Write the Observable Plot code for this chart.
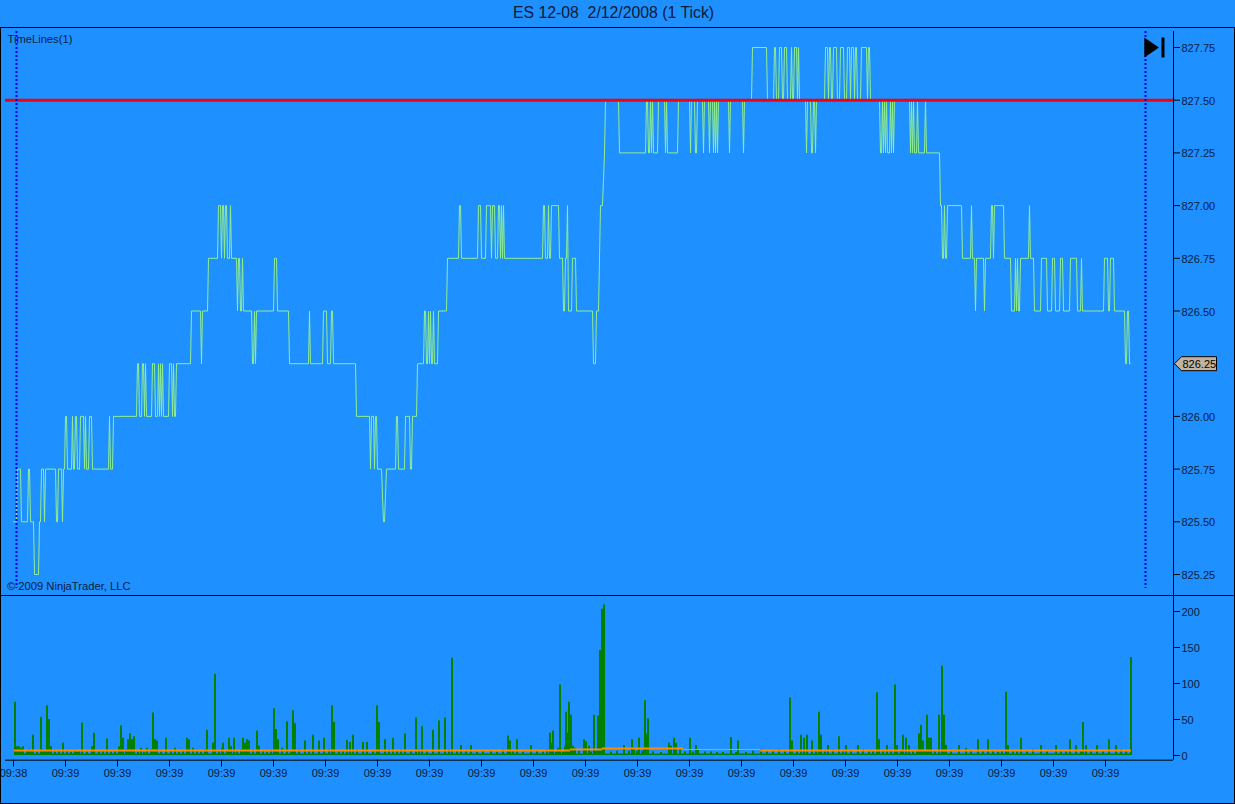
<!DOCTYPE html>
<html>
<head>
<meta charset="utf-8">
<script src="https://cdn.jsdelivr.net/npm/d3@7"></script>
<script src="https://cdn.jsdelivr.net/npm/@observablehq/plot@0.6"></script>
<style>
html,body{margin:0;padding:0;background:#1E90FF;overflow:hidden}
#page{position:relative;width:1235px;height:804px;background:#1E90FF;font-family:"Liberation Sans",Arial,sans-serif}
#title{position:absolute;left:0;top:4px;width:1227px;text-align:center;font-size:15.8px;line-height:18px;color:#0a1a36;white-space:pre}
#frame{position:absolute;left:0;top:27px;width:1233px;height:775px;border:1px solid #000;box-sizing:content-box;pointer-events:none}
#sep{position:absolute;left:0;top:595px;width:1235px;height:1px;background:#000}
#top,#bottom{position:absolute;left:0}
#top{top:27px}#bottom{top:595px}
svg{display:block;background:transparent!important}
</style>
</head>
<body>
<div id="page">
<div id="title">ES 12-08  2/12/2008 (1 Tick)</div>
<div id="top"></div>
<div id="bottom"></div>
<div id="frame"></div>
<div id="sep"></div>
</div>
<script>
// price runs: [first tick, last tick, price]
const priceRuns = [
[13,16,825.5],[17,20,825.75],[21,27,825.5],[28,29,825.75],[30,33,825.5],[34,38,825.25],[39,40,825.5],[41,43,825.75],[44,44,825.5],[45,55,825.75],[56,57,825.5],[58,61,825.75],[62,62,825.5],[63,64,825.75],[65,66,826],[67,71,825.75],[72,72,826],[73,74,825.75],[75,76,826],[77,79,825.75],[80,83,826],[84,84,825.75],[85,85,826],[86,88,825.75],[89,91,826],[92,108,825.75],[109,109,826],[110,112,825.75],[113,136,826],[137,138,826.25],[139,141,826],[142,143,826.25],[144,144,826],[145,145,826.25],[146,151,826],[152,154,826.25],[155,157,826],[158,158,826.25],[159,159,826],[160,160,826.25],[161,161,826],[162,162,826.25],[163,168,826],[169,171,826.25],[172,172,826],[173,173,826.25],[174,175,826],[176,190,826.25],
[191,200,826.5],[201,201,826.25],[202,207,826.5],[208,217,826.75],[218,220,827],[221,221,826.75],[222,223,827],[224,224,826.75],[225,226,827],[227,229,826.75],[230,230,827],[231,236,826.75],[237,237,826.5],[238,239,826.75],[240,241,826.5],[242,242,826.75],[243,251,826.5],[252,253,826.25],[254,254,826.5],[255,255,826.25],[256,273,826.5],[274,276,826.75],[277,288,826.5],[289,308,826.25],[309,309,826.5],[310,322,826.25],[323,326,826.5],[327,330,826.25],[331,332,826.5],[333,355,826.25],[356,369,826],[370,370,825.75],[371,373,826],[374,374,825.75],[375,376,826],[377,381,825.75],[383,384,825.5],[386,395,825.75],[396,397,826],[398,404,825.75],[405,409,826],[410,411,825.75],[412,416,826],
[417,423,826.25],[424,425,826.5],[426,427,826.25],[428,428,826.5],[429,429,826.25],[430,430,826.5],[431,432,826.25],[433,433,826.5],[434,437,826.25],[438,446,826.5],[447,458,826.75],[459,460,827],[461,477,826.75],[478,480,827],[481,485,826.75],[486,490,827],[491,491,826.75],[492,494,827],[495,497,826.75],[498,499,827],[500,500,826.75],[501,501,827],[502,502,826.75],[503,503,827],[504,542,826.75],[543,544,827],[545,547,826.75],[548,548,827],[549,550,826.75],[551,558,827],[559,562,826.75],[563,564,826.5],[565,566,826.75],[567,567,827],[568,571,826.5],[572,575,826.75],[576,592,826.5],[593,595,826.25],[596,598,826.5],[599,599,826.75],[600,602,827],[604,604,827.25],
[605,618,827.5],[619,645,827.25],[646,647,827.5],[648,649,827.25],[650,650,827.5],[651,651,827.25],[652,652,827.5],[653,657,827.25],[658,664,827.5],[665,665,827.25],[666,666,827.5],[667,667,827.25],[668,677,827.25],[678,689,827.5],[690,690,827.25],[691,694,827.5],[695,696,827.25],[697,702,827.5],[703,703,827.25],[704,708,827.5],[709,709,827.25],[710,712,827.5],[713,713,827.25],[714,714,827.5],[715,715,827.25],[716,716,827.5],[717,717,827.25],[718,728,827.5],[729,729,827.25],[730,742,827.5],[743,743,827.25],[744,751,827.5],[752,766,827.75],[767,773,827.5],[774,775,827.75],[776,778,827.5],[779,781,827.75],[782,783,827.5],[784,786,827.75],[787,790,827.5],
[791,791,827.75],[792,793,827.5],[794,796,827.75],[797,797,827.5],[798,798,827.75],[799,805,827.5],[806,806,827.25],[807,810,827.5],[811,812,827.25],[813,814,827.5],[815,815,827.25],[816,824,827.5],[825,827,827.75],[828,828,827.5],[829,830,827.75],[831,832,827.5],[833,836,827.75],[837,839,827.5],[840,843,827.75],[844,846,827.5],[847,849,827.75],[850,850,827.5],[851,853,827.75],[854,854,827.5],[855,856,827.75],[857,860,827.5],[861,866,827.75],[867,867,827.5],[868,869,827.75],[870,879,827.5],[880,881,827.25],[882,882,827.5],[883,883,827.25],[884,884,827.5],[885,885,827.25],[886,886,827.5],[887,889,827.25],[890,890,827.5],[891,891,827.25],[892,892,827.5],[893,893,827.25],[894,909,827.5],[910,910,827.25],[911,911,827.5],[912,912,827.25],[913,913,827.5],[914,916,827.25],[917,917,827.5],[918,924,827.25],[925,925,827.5],[926,939,827.25],
[940,941,827],[942,943,826.75],[944,944,827],[945,946,826.75],[947,961,827],[962,970,826.75],[971,971,827],[972,974,826.75],[975,975,826.5],[976,983,826.75],[984,984,826.5],[985,990,826.75],[991,992,827],[993,993,826.75],[994,1003,827],[1004,1010,826.75],[1011,1014,826.5],[1015,1015,826.75],[1016,1016,826.5],[1017,1017,826.75],[1018,1019,826.5],[1020,1028,826.75],[1029,1029,827],[1030,1033,826.75],[1034,1040,826.5],[1041,1046,826.75],[1047,1051,826.5],[1052,1054,826.75],[1055,1059,826.5],[1060,1062,826.75],[1063,1069,826.5],[1070,1076,826.75],[1077,1080,826.5],[1081,1081,826.75],[1082,1103,826.5],[1104,1107,826.75],[1108,1109,826.5],[1110,1113,826.75],[1114,1124,826.5],[1125,1126,826.25],[1127,1128,826.5],[1129,1130,826.25]
];
const priceTicks = [827.75,827.5,827.25,827,826.75,826.5,826.25,826,825.75,825.5,825.25];
const refPrice = 827.5;
const lastPrice = 826.25;
const timelineTicks = [16,1145];

// volume: tick and value of each visible bar
const volTicksEarly = [14,16,18,20,22,26,28,30,32,36,40,42,44,46,48,50,54,58,62,66,70,74,76,78,81,86,91,93,98,102,106,110,114,118,120,122,125,127,129,131,133,137,140,143,146,150,152,154,156,160,165,170,174,178,182,186,188,192,196,200,204,206,212,214,218,221,222,226,228,230,233,236,240,242,244,246,248,252,256,258,262,266,270,273,275,277,281,286,290,292,294,298,304,308,312,318,323,328,331,333,338,342,346,349,352,356,362,366,372,376,378,384,388,392,396,400,404,410,415,418,421,426,432,438,444,448,451,456,460,465,470,476,482,490,496,502,507,509,512,516,522,530,536,542,546,549,551,552,555,557,559,562,564,565,567,568,570,572,574,578,583,585,588,590,593,595,597,599,601,603,610,616,623,628,631,633,636,638,641,643,644,646,647,652,660,668,670,673,675,679,684,689,692,695,697,704,710,716,722,730,735,737,745,752,760,766,772,778,784,789,791,796,800,803,806,811,815,818];
const volValuesEarly = [74,12,12,10,12,6,8,6,28,5,53,8,6,69,50,12,5,6,17,6,5,7,5,6,45,5,12,31,6,7,23,5,6,12,41,24,8,22,30,22,26,5,10,5,10,8,59,22,20,5,24,6,10,5,6,24,22,10,6,5,8,35,17,113,6,10,17,6,24,12,24,6,8,24,17,22,20,8,34,13,6,5,8,65,36,22,10,47,6,62,44,8,20,6,28,20,24,8,69,46,6,6,21,18,28,8,18,18,6,69,46,22,8,24,6,8,30,6,52,8,40,6,35,48,52,8,135,6,14,6,14,5,6,7,5,8,27,20,6,22,5,14,6,5,8,31,17,34,5,10,98,5,12,60,31,74,56,13,10,6,22,19,13,5,56,6,55,146,203,209,5,6,14,6,22,8,6,24,6,8,76,30,51,5,4,17,13,24,17,8,5,24,5,14,8,5,5,4,4,25,4,20,4,6,8,6,7,8,6,80,20,6,28,24,28,20,6,60];
const volTicksLate = [820,824,827,832,838,842,845,850,857,862,868,872,876,878,882,886,890,894,896,900,902,905,908,912,916,918,920,922,924,926,928,930,934,938,941,943,945,950,958,965,970,977,982,987,992,997,1001,1005,1007,1012,1016,1020,1026,1032,1040,1046,1055,1060,1065,1069,1075,1080,1082,1085,1090,1096,1102,1108,1115,1120,1125,1130];
const volValuesLate = [28,6,14,8,26,7,14,6,14,8,6,7,87,22,6,14,6,98,14,6,28,24,14,7,6,30,42,20,7,56,24,24,6,56,124,56,14,6,14,10,6,22,6,22,6,5,7,88,14,6,6,24,7,8,14,6,14,7,7,22,14,6,46,14,7,14,6,22,14,8,6,136];
const volAxisTicks = [200,150,100,50,0];
const volBaseRuns = [[14,1131,2]];
const avgRuns = [[14,570,7],[570,602,8.4],[602,683,9.8],[760,1131,7]];
const avgThinRuns = [[683,760,8.4]];

const timeTicks = [13,65,117,169,221,273,325,377,429,481,533,585,637,689,741,793,845,897,949,1001,1053,1105];
const timeLabels = ["09:38","09:39","09:39","09:39","09:39","09:39","09:39","09:39","09:39","09:39","09:39","09:39","09:39","09:39","09:39","09:39","09:39","09:39","09:39","09:39","09:39","09:39"];

const ink = "#0a1c40";
const fontStyle = {background:"transparent",fontFamily:"'Liberation Sans',Arial,sans-serif",fontSize:"11px",overflow:"visible"};
const xScale = {type:"linear",domain:[0,1235],range:[0,1235]};

const pricePoints = priceRuns.flatMap(([a,b,p]) => a===b ? [{t:a,p}] : [{t:a,p},{t:b,p}]);

const nsvg = "http://www.w3.org/2000/svg";
function pathMark(fn, attrs){
  return (index, scales) => {
    const p = document.createElementNS(nsvg,"path");
    p.setAttribute("d", fn(scales));
    for (const k in attrs) p.setAttribute(k, attrs[k]);
    return p;
  };
}

const topPlot = Plot.plot({
  width:1235, height:568, margin:0,
  style:fontStyle,
  x:{...xScale, axis:null},
  y:{type:"linear",domain:[825.25,827.75],range:[547,20],axis:null},
  marks:[
    Plot.line(pricePoints,{x:"t",y:"p",stroke:"#90EE90",strokeWidth:1,curve:"linear"}),
    Plot.ruleY([refPrice],{x1:5,x2:1173,stroke:"#f40010",strokeWidth:3}),
    Plot.ruleX(timelineTicks,{y1:827.826,y2:825.184,stroke:"#0000ff",strokeWidth:2,strokeDasharray:"2 2"}),
    Plot.ruleX([1173],{y1:827.826,y2:825.15,stroke:"#000",strokeWidth:1}),
    Plot.ruleY(priceTicks,{x1:1173,x2:1180,stroke:"#000"}),
    Plot.text(priceTicks,{x:()=>1181,y:d=>d,text:d=>d.toFixed(2),textAnchor:"start",fill:ink,fontSize:11,dy:1}),
    pathMark(({x,y})=>{
      const X=x(1145), Y=y(827.75)+0.5;
      return `M${X-0.7},${Y-10}L${X+14},${Y}L${X-0.7},${Y+10}Z`;
    },{fill:"#000"}),
    pathMark(({x,y})=>{
      const X=x(1161), Y=y(827.75)+0.5;
      return `M${X+0.5},${Y-10}h3v20h-3Z`;
    },{fill:"#000"}),
    pathMark(({x,y})=>{
      const X=x(1175), Y=y(lastPrice)+0.5;
      return `M${X-0.5},${Y}L${X+6.5},${Y-7}H${X+41.5}V${Y+7}H${X+6.5}Z`;
    },{fill:"#C4B29C",stroke:"#000"}),
    Plot.text([lastPrice],{x:()=>1182,y:d=>d,text:d=>d.toFixed(2),textAnchor:"start",fill:"#000",fontSize:11,dy:0.5}),
    Plot.text(["TimeLines(1)"],{x:()=>7,y:()=>827.75,text:d=>d,textAnchor:"start",fill:ink,fontSize:11.2,dy:-8}),
    Plot.text(["© 2009 NinjaTrader, LLC"],{x:()=>6.5,y:()=>825.25,text:d=>d,textAnchor:"start",fill:ink,fontSize:11.2,dy:12})
  ]
});
document.getElementById("top").appendChild(topPlot);

const volData = [...volTicksEarly.map((t,i)=>({t,v:volValuesEarly[i]})), ...volTicksLate.map((t,i)=>({t,v:volValuesLate[i]}))];
const segs = r => r.map(([a,b,v])=>({a,b,v}));
const bottomPlot = Plot.plot({
  width:1235, height:208, margin:0,
  style:fontStyle,
  x:{...xScale, axis:null},
  y:{type:"linear",domain:[0,200],range:[160,16],axis:null},
  marks:[
    Plot.ruleX(volData,{x:"t",y1:0,y2:"v",stroke:"#008000",strokeWidth:2,dx:0.5}),
    Plot.rect(segs(volBaseRuns),{x1:"a",x2:"b",y1:0,y2:"v",fill:"#008000"}),
    Plot.ruleY(segs(avgRuns),{x1:"a",x2:"b",y:"v",stroke:"#ff8c00",strokeWidth:2}),
    Plot.ruleY(segs(avgThinRuns),{x1:"a",x2:"b",y:"v",stroke:"#e0a040",strokeWidth:1}),
    Plot.ruleX([1173],{y1:222,y2:-6.5,stroke:"#000"}),
    Plot.ruleY(volAxisTicks,{x1:1173,x2:1180,stroke:"#000"}),
    Plot.text(volAxisTicks,{x:()=>1181,y:d=>d,text:d=>String(d),textAnchor:"start",fill:ink,fontSize:11,dy:0.5}),
    Plot.ruleY([-6.5],{x1:5,x2:1173,stroke:"#000"}),
    Plot.ruleX(timeTicks,{y1:-6.5,y2:-16,stroke:"#000"}),
    Plot.text(timeTicks,{x:d=>d,y:()=>-6.5,text:(d,i)=>timeLabels[i],textAnchor:"middle",fill:ink,fontSize:11,dy:13})
  ]
});
document.getElementById("bottom").appendChild(bottomPlot);
</script>
</body>
</html>
